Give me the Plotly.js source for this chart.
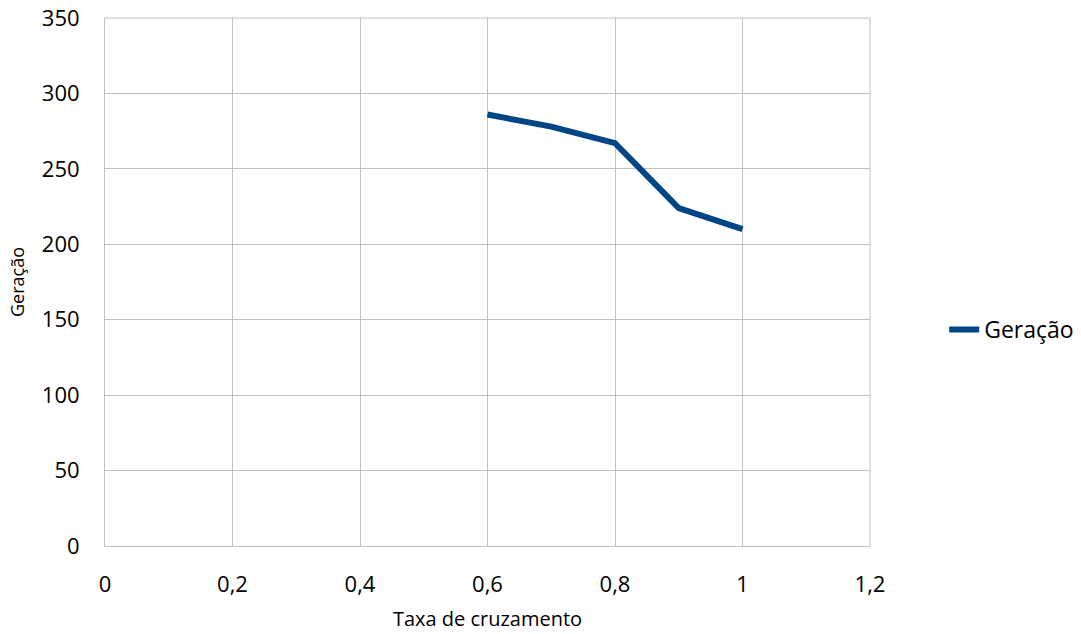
<!DOCTYPE html>
<html>
<head>
<meta charset="utf-8">
<script src="https://cdn.plot.ly/plotly-3.0.1.min.js"></script>
<style>
  html, body { margin: 0; padding: 0; background: #ffffff; }
  #chart { width: 1081px; height: 634px; }
</style>
</head>
<body>
<div id="chart"></div>
<script>
// Crossover rate vs. generations needed
const taxaCruzamento = [0.6, 0.7, 0.8, 0.9, 1.0];
const geracao = [286, 278, 267, 224, 210];
const serieNome = 'Geração';

const xTicks = [0, 0.2, 0.4, 0.6, 0.8, 1, 1.2];
const xTickText = ['0', '0,2', '0,4', '0,6', '0,8', '1', '1,2'];
const yTicks = [0, 50, 100, 150, 200, 250, 300, 350];

const fontFamily = '"Open Sans", "Noto Sans", sans-serif';
const gridColor = '#c0c0c0';

const trace = {
  x: taxaCruzamento,
  y: geracao,
  type: 'scatter',
  mode: 'lines',
  name: serieNome,
  line: { color: '#004586', width: 6 }
};

const layout = {
  width: 1081,
  height: 634,
  margin: { l: 105, r: 211, t: 18, b: 88, autoexpand: false },
  paper_bgcolor: '#ffffff',
  plot_bgcolor: '#ffffff',
  font: { family: fontFamily, color: '#000000' },
  showlegend: true,
  legend: {
    x: 1.097, y: 0.41, xanchor: 'left', yanchor: 'middle',
    font: { size: 23, family: fontFamily },
    bgcolor: 'rgba(0,0,0,0)'
  },
  xaxis: {
    range: [0, 1.2],
    tickvals: xTicks,
    ticktext: xTickText,
    showgrid: true,
    gridcolor: gridColor,
    gridwidth: 1,
    showline: true,
    linecolor: gridColor,
    linewidth: 1,
    zeroline: false,
    ticks: '',
    ticklabelstandoff: 19,
    tickfont: { size: 22 },
    title: { text: 'Taxa de cruzamento', font: { size: 20 }, standoff: 14 }
  },
  yaxis: {
    range: [0, 350],
    tickvals: yTicks,
    showgrid: true,
    gridcolor: gridColor,
    gridwidth: 1,
    showline: true,
    linecolor: gridColor,
    linewidth: 1,
    zeroline: false,
    ticks: '',
    ticklabelstandoff: 20,
    tickfont: { size: 22 },
    title: { text: 'Geração', font: { size: 18 }, standoff: 12 }
  },
  shapes: [
    { type: 'line', xref: 'paper', yref: 'paper', x0: 1, x1: 1, y0: 0, y1: 1,
      line: { color: gridColor, width: 1 } },
    { type: 'line', xref: 'paper', yref: 'paper', x0: 0, x1: 1, y0: 1, y1: 1,
      line: { color: gridColor, width: 1 } }
  ]
};

Plotly.newPlot('chart', [trace], layout, { displayModeBar: false, staticPlot: true });
</script>
</body>
</html>
